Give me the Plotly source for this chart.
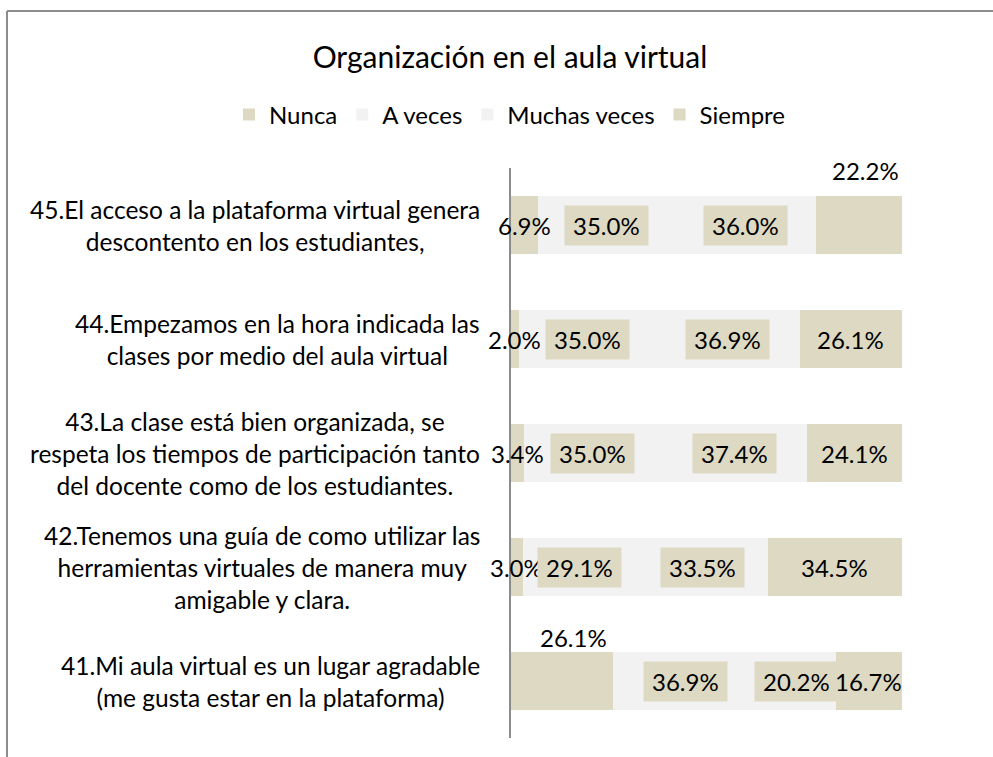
import plotly.graph_objects as go

# ---- data ----
categories = [
    "41.Mi aula virtual es un lugar agradable<br>(me gusta estar en la plataforma)",
    "42.Tenemos una guía de como utilizar las<br>herramientas virtuales de manera muy<br>amigable y clara.",
    "43.La clase está bien organizada, se<br>respeta los tiempos de participación tanto<br>del docente como de los estudiantes.",
    "44.Empezamos en la hora indicada las<br>clases por medio del aula virtual",
    "45.El acceso a la plataforma virtual genera<br>descontento en los estudiantes,",
]
series_names = ["Nunca", "A veces", "Muchas veces", "Siempre"]
nunca = [26.1, 3.0, 3.4, 2.0, 6.9]
a_veces = [36.9, 29.1, 35.0, 35.0, 35.0]
muchas_veces = [20.2, 33.5, 37.4, 36.9, 36.0]
siempre = [16.7, 34.5, 24.1, 26.1, 22.2]
title_text = "Organización en el aula virtual"

# ---- styles ----
TAN = "#DDD9C3"
GRAY = "#F2F2F2"
LINE = "#8C8C8C"
FONT = "Lato"
FS = 24
colors = [TAN, GRAY, GRAY, TAN]
boxed = [False, True, True, False]
# labels Excel placed above the bar: (category index, series index) -> (xshift, yshift)
above = {(4, 3): (7, 55), (0, 0): (11, 44)}

W, H = 993, 757
ML, MR, MT, MB = 511, 91, 168, 19
PW, PH = W - ML - MR, H - MT - MB


def px_x(px):
    return (px - ML) / PW


def px_y(py):
    return (H - MB - py) / PH


all_series = [nunca, a_veces, muchas_veces, siempre]

fig = go.Figure()
for name, vals, col in zip(series_names, all_series, colors):
    fig.add_trace(go.Bar(
        y=categories, x=vals, name=name, orientation="h",
        marker=dict(color=col, line=dict(width=0)), width=0.51,
        hoverinfo="skip",
    ))

annotations = []
# data labels
for ci, cat in enumerate(categories):
    cum = 0.0
    for si, vals in enumerate(all_series):
        v = vals[ci]
        mid = cum + v / 2
        cum += v
        label = f"{v:.1f}%"
        ann = dict(x=mid, y=cat, xref="x", yref="y", showarrow=False,
                   font=dict(family=FONT, size=FS, color="#000000"),
                   xanchor="center", yanchor="middle")
        if (ci, si) in above:
            xs, ys = above[(ci, si)]
            ann.update(text=label, xshift=xs, yshift=ys)
        elif boxed[si]:
            ann.update(text="\u2009" + label + "\u2009", bgcolor=TAN, borderpad=5)
        else:
            ann.update(text=label)
        annotations.append(ann)

# category labels
for cat in categories:
    annotations.append(dict(
        x=px_x(482), y=cat, xref="paper", yref="y", text=cat, showarrow=False,
        xanchor="right", yanchor="middle", align="center",
        font=dict(family=FONT, size=24.5, color="#000000"),
    ))

shapes = [
    dict(type="line", xref="paper", yref="paper", x0=px_x(7), x1=px_x(1010),
         y0=px_y(11), y1=px_y(11), line=dict(color=LINE, width=2)),
    dict(type="line", xref="paper", yref="paper", x0=px_x(7), x1=px_x(7),
         y0=px_y(11), y1=px_y(770), line=dict(color=LINE, width=2)),
]

fig.update_layout(
    width=W, height=H,
    margin=dict(l=ML, r=MR, t=MT, b=MB, pad=0),
    paper_bgcolor="white", plot_bgcolor="white",
    barmode="stack",
    title=dict(text=title_text, x=510 / W, xref="container", xanchor="center",
               y=1 - 57 / H, yref="container", yanchor="middle",
               font=dict(family=FONT, size=30, color="#000000")),
    legend=dict(orientation="h", xref="paper", x=px_x(229), xanchor="left",
                yref="paper", y=px_y(115), yanchor="middle",
                traceorder="normal",
                font=dict(family=FONT, size=FS, color="#000000"),
                bgcolor="rgba(0,0,0,0)"),
    xaxis=dict(range=[0, 100], visible=False, fixedrange=True),
    yaxis=dict(showticklabels=False, showgrid=False, zeroline=False,
               showline=True, linecolor=LINE, linewidth=2, ticks="",
               range=[-0.5, 4.5], autorange=False, fixedrange=True,
               categoryorder="array", categoryarray=categories),
    annotations=annotations, shapes=shapes,
    font=dict(family=FONT),
)

fig.write_html(
    "out.html",
    config={"displayModeBar": False},
    post_script="document.body.style.margin='0';document.body.style.overflow='hidden';",
)
